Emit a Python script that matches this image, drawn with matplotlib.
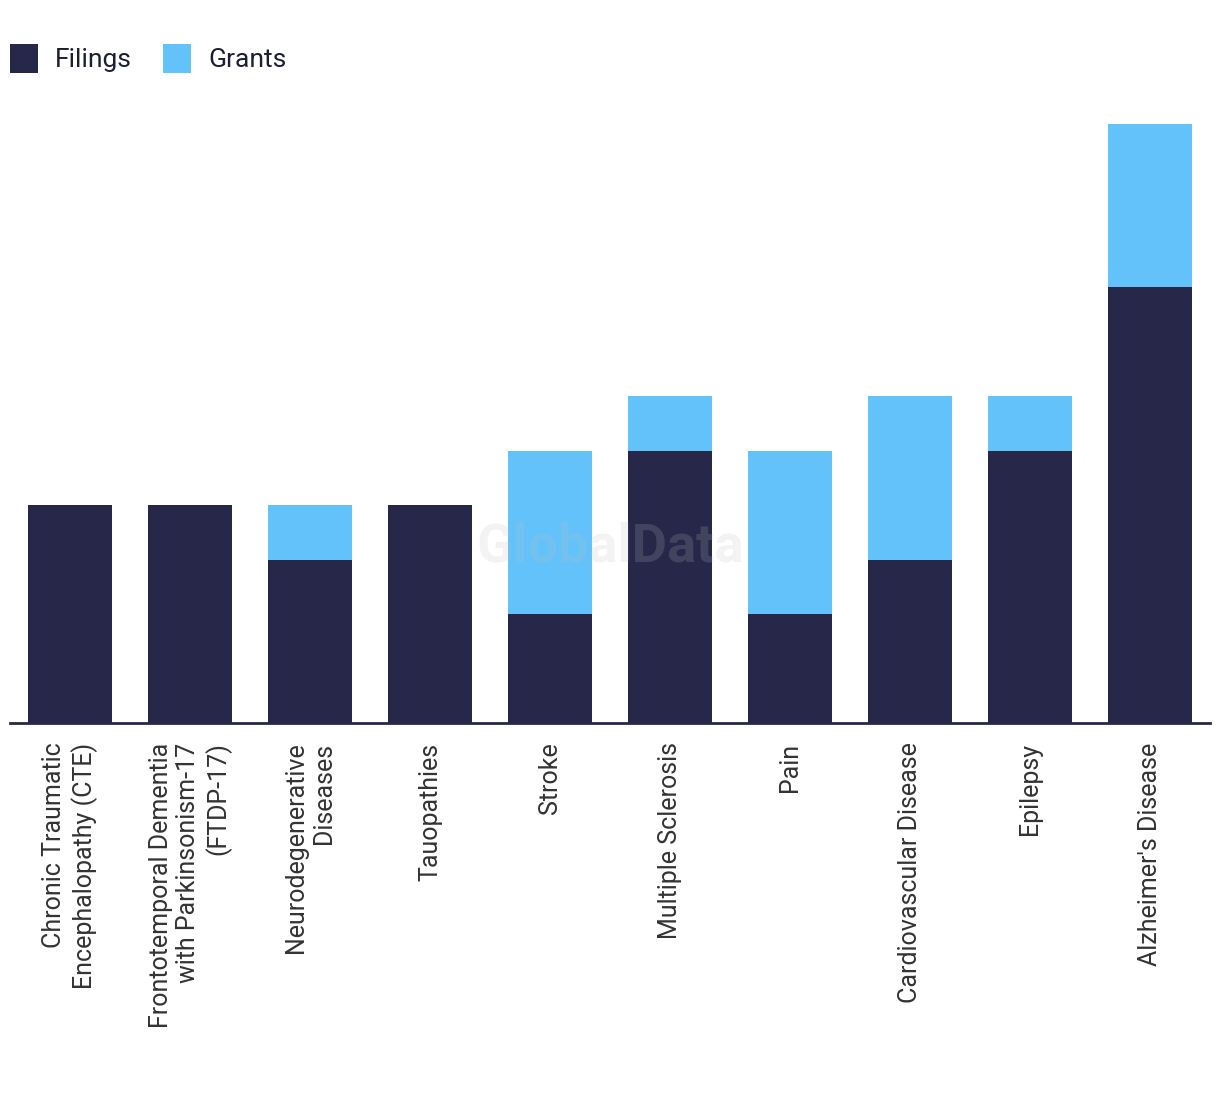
import matplotlib
matplotlib.use("Agg")
import matplotlib.pyplot as plt
from matplotlib.patches import Patch

categories = [
    "Chronic Traumatic\nEncephalopathy (CTE)",
    "Frontotemporal Dementia\nwith Parkinsonism-17\n(FTDP-17)",
    "Neurodegenerative\nDiseases",
    "Tauopathies",
    "Stroke",
    "Multiple Sclerosis",
    "Pain",
    "Cardiovascular Disease",
    "Epilepsy",
    "Alzheimer's Disease",
]
filings = [4, 4, 3, 4, 2, 5, 2, 3, 5, 8]
grants = [0, 0, 1, 0, 3, 1, 3, 3, 1, 3]

NAVY = "#27274a"
BLUE = "#62c2f9"

plt.rcParams["font.family"] = ["Roboto", "DejaVu Sans"]

W, H = 1220, 1094
fig = plt.figure(figsize=(W / 100, H / 100), dpi=100)
ax = fig.add_axes([10 / W, 1 - 723 / H, 1200 / W, (723 - 124) / H])

x = list(range(len(categories)))
ax.bar(x, filings, width=0.7, color=NAVY, label="Filings", zorder=2)
ax.bar(x, grants, width=0.7, bottom=filings, color=BLUE, label="Grants", zorder=2)

ax.set_xlim(-0.5, len(categories) - 0.5)
ax.set_ylim(0, max(f + g for f, g in zip(filings, grants)))
for s in ["top", "right", "left"]:
    ax.spines[s].set_visible(False)
ax.spines["bottom"].set_color(NAVY)
ax.spines["bottom"].set_linewidth(2)
ax.spines["bottom"].set_zorder(3)
ax.set_yticks([])
ax.set_xticks(x)
ax.set_xticklabels(categories, rotation=90, ha="center", va="top",
                   rotation_mode="default", multialignment="right",
                   fontsize=18, color="#333333", linespacing=1.2)
ax.tick_params(axis="x", length=0, pad=14)

ax.text(0.5, 0.294, "GlobalData", transform=ax.transAxes, ha="center", va="center",
        fontsize=39, fontweight="bold", color="#c1c1c1", alpha=0.19, zorder=5,
        family=["Roboto", "DejaVu Sans"])

handles = [Patch(facecolor=NAVY, label="Filings"), Patch(facecolor=BLUE, label="Grants")]
fig.legend(handles=handles, loc="upper left", bbox_to_anchor=(10 / W, 1 - 44 / H),
           ncol=2, frameon=False, fontsize=19, handlelength=1.06, handleheight=1.3,
           handletextpad=0.64, columnspacing=1.2, labelcolor="#1e1e33",
           borderpad=0, borderaxespad=0)

fig.savefig("out.png", dpi=100)
